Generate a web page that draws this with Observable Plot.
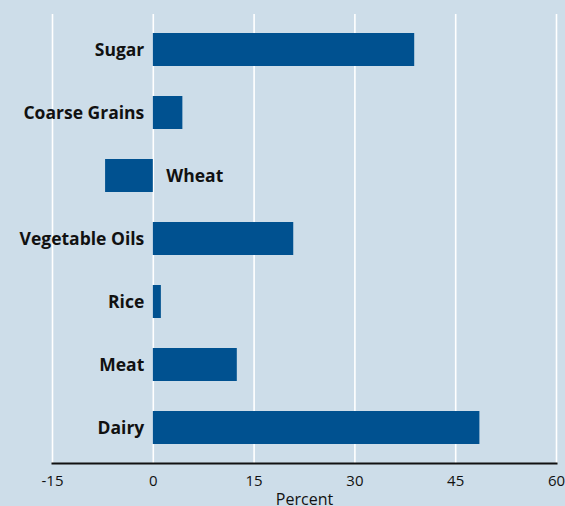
<!DOCTYPE html>
<html>
<head>
<meta charset="utf-8">
<script src="https://cdn.jsdelivr.net/npm/d3@7"></script>
<script src="https://cdn.jsdelivr.net/npm/@observablehq/plot@0.6"></script>
<style>
  html, body { margin: 0; padding: 0; background: #cddde9; }
</style>
</head>
<body>
<div id="chart"></div>
<script>
const categories = ["Sugar", "Coarse Grains", "Wheat", "Vegetable Oils", "Rice", "Meat", "Dairy"];
const values = [38.9, 4.4, -7.1, 20.9, 1.2, 12.5, 48.6];
const xTicks = [-15, 0, 15, 30, 45, 60];
const xLabel = "Percent";

const data = categories.map((c, i) => ({category: c, value: values[i]}));

const chart = Plot.plot({
  width: 565,
  height: 506,
  marginLeft: 52,
  marginRight: 9,
  marginTop: 14,
  marginBottom: 43,
  style: {background: "#cddde9", fontFamily: "'Open Sans', sans-serif", color: "#111"},
  x: {domain: [-15, 60], ticks: xTicks},
  y: {domain: categories, paddingInner: 0.484, paddingOuter: 0.25, axis: null},
  marks: [
    Plot.gridX(xTicks, {stroke: "white", strokeOpacity: 1, strokeWidth: 1.6}),
    Plot.barX(data, {x: "value", y: "category", fill: "#005190"}),
    Plot.frame({anchor: "bottom", stroke: "#111", strokeWidth: 2}),
    Plot.axisX({ticks: xTicks, tickFormat: d => String(d), tickSize: 0, tickPadding: 12, fontSize: 15, label: null}),
    Plot.text([xLabel], {frameAnchor: "bottom", dy: 41, lineAnchor: "bottom", text: d => d, fontSize: 16, fill: "#111"}),
    Plot.text(data.filter(d => d.value >= 0), {
      x: 0, y: "category", text: "category",
      textAnchor: "end", dx: -9,
      fontSize: 17.5, fontWeight: "bold", fill: "#111"
    }),
    Plot.text(data.filter(d => d.value < 0), {
      x: 0, y: "category", text: "category",
      textAnchor: "start", dx: 13,
      fontSize: 17.5, fontWeight: "bold", fill: "#111"
    })
  ]
});

document.getElementById("chart").appendChild(chart);
</script>
</body>
</html>
